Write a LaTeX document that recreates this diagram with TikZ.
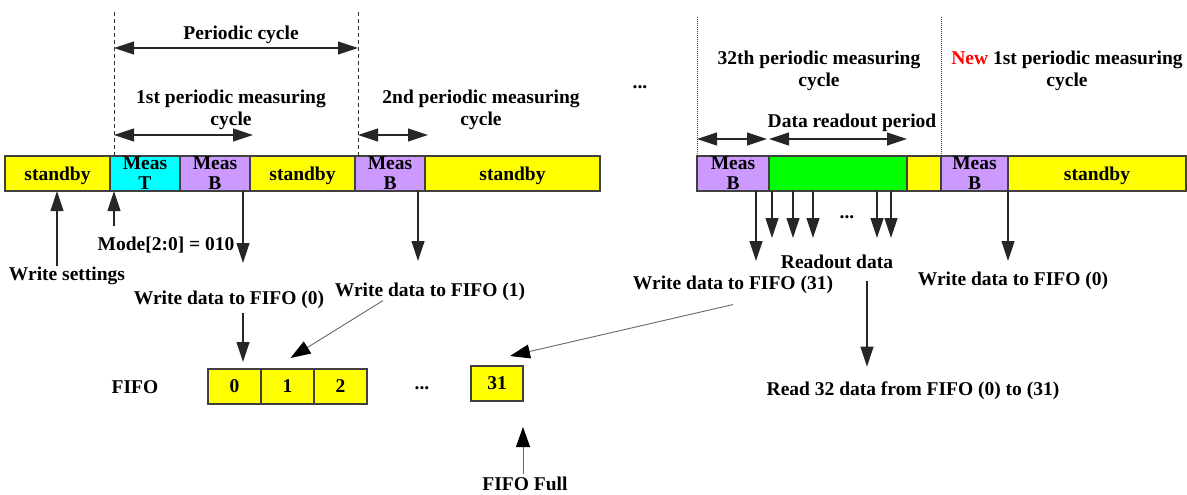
\documentclass[tikz,border=0pt]{standalone}
\usepackage{fontspec}
\setmainfont{Liberation Serif}
\usetikzlibrary{arrows.meta, positioning}
\definecolor{sbyellow}{RGB}{255,255,0}
\definecolor{meascyan}{RGB}{0,255,255}
\definecolor{measlilac}{RGB}{204,153,255}
\definecolor{readgreen}{RGB}{0,255,0}

\begin{document}
\begin{tikzpicture}[x=1pt, y=-1pt,
  lbl/.style={inner sep=0pt, align=center, yshift=-2.5pt, font=\fontsize{19.5}{22}\selectfont\bfseries},
  seg/.style={draw=black!75, line width=1.2pt, minimum height=35pt, inner sep=0pt, outer sep=0pt, align=center, text depth=0pt, font=\fontsize{19.5}{20}\selectfont\bfseries},
  cell/.style={seg, fill=sbyellow, minimum width=53pt},
  arr/.style={-{Triangle[length=20pt, width=13pt]}, line width=1.2pt, black!85},
  dimarr/.style={{Triangle[length=20pt, width=13pt]}-{Triangle[length=20pt, width=13pt]}, line width=1.2pt, black!85},
  thinarr/.style={-{Triangle[length=20pt, width=14pt, black]}, line width=0.9pt, black!60},
  guide/.style={black!80, line width=0.8pt, dash pattern=on 4pt off 3pt},
  dotguide/.style={black!80, line width=0.8pt, dash pattern=on 1pt off 1pt},
]
  \useasboundingbox (0,0) rectangle (1187,495);

  % time line, first part
  \node[seg, fill=sbyellow, minimum width=105pt, anchor=north west] (sb1) at (5,156) {standby};
  \node[seg, fill=meascyan, minimum width=70pt, right=0pt of sb1] (mt) {Meas\\T};
  \node[seg, fill=measlilac, minimum width=70pt, right=0pt of mt] (mb1) {Meas\\B};
  \node[seg, fill=sbyellow, minimum width=105pt, right=0pt of mb1] (sb2) {standby};
  \node[seg, fill=measlilac, minimum width=70pt, right=0pt of sb2] (mb2) {Meas\\B};
  \node[seg, fill=sbyellow, minimum width=175pt, right=0pt of mb2] (sb3) {standby};

  % time line, last part
  \node[seg, fill=measlilac, minimum width=72pt, anchor=north west] (mb3) at (697,156) {Meas\\B};
  \node[seg, fill=readgreen, minimum width=138pt, right=0pt of mb3] (rd) {};
  \node[seg, fill=sbyellow, minimum width=34pt, right=0pt of rd] (yl) {};
  \node[seg, fill=measlilac, minimum width=67pt, right=0pt of yl] (mb4) {Meas\\B};
  \node[seg, fill=sbyellow, minimum width=178pt, right=0pt of mb4] (sb4) {standby};

  % cycle borders
  \coordinate (v1) at (114,12);
  \coordinate (v2) at (358,12);
  \coordinate (v3) at (697,17);
  \coordinate (v4) at (941,17);
  \draw[guide] (v1) -- (v1 |- sb1.north);
  \draw[guide] (v2) -- (v2 |- sb1.north);
  \draw[dotguide] (v3) -- (v3 |- mb3.north);
  \draw[dotguide] (v4) -- (v4 |- mb3.north);

  % cycle labels
  \node[lbl] (pc) at (241,32) {Periodic cycle};
  \node[lbl] (c1st) at (231,107) {1st periodic measuring\\cycle};
  \node[lbl] (c2nd) at (481,107) {2nd periodic measuring\\cycle};
  \node[lbl] (dots1) at (640,85) {...};
  \node[lbl] (c32) at (819,68) {32th periodic measuring\\cycle};
  \node[lbl] (cnew) at (1067,68) {\textcolor{red}{New} 1st periodic measuring\\cycle};
  \node[lbl] (drp) at (852,120) {Data readout period};

  \draw[dimarr] (v1 |- 0,48) -- (v2 |- 0,48);
  \draw[dimarr] (v1 |- 0,135) -- (253,135);
  \draw[dimarr] (v2 |- 0,135) -- (428,135);
  \draw[dimarr] ([yshift=17pt]mb3.north west) -- ([xshift=-2pt,yshift=17pt]mb3.north east);
  \draw[dimarr] ([yshift=17pt]rd.north west) -- ([yshift=17pt]rd.north east);

  % events below the time line
  \node[lbl] (wset) at (67,273) {Write settings};
  \draw[arr] ([xshift=-10pt]wset.north) -- ([xshift=-10pt]wset.north |- sb1.south);
  \node[lbl] (mode) at (166,243) {Mode[2:0] = 010};
  \draw[arr] (v1 |- 0,226) -- (v1 |- mt.south);
  \draw[arr] ([xshift=-7pt]mb1.south east) -- ++(0,72);
  \node[lbl] (wd0) at (229,297) {Write data to FIFO (0)};
  \draw[arr] ([xshift=-7pt]mb2.south east) -- ++(0,70);
  \node[lbl] (wd1) at (430,289) {Write data to FIFO (1)};

  \draw[arr] ([xshift=-13pt]mb3.south east) -- ++(0,70);
  \foreach \dx in {3,24,44,108,122}
    \draw[arr] ([xshift=\dx pt]rd.south west) -- ++(0,47);
  \node[lbl] (dots3) at (847,215) {...};
  \node[lbl] (rdtxt) at (837,259) {Readout data};
  \node[lbl] (wd31) at (733,282) {Write data to FIFO (31)};
  \draw[arr] (mb4.south east) -- ++(0,70);
  \node[lbl] (wd0b) at (1013,278) {Write data to FIFO (0)};

  % FIFO
  \node[lbl] (fifo) at (135,385) {FIFO};
  \node[cell] (c0) at (234.5,386.5) {0};
  \node[cell, right=0pt of c0] (c1) {1};
  \node[cell, right=0pt of c1] (c2) {2};
  \node[lbl] (dots2) at (422,386) {...};
  \node[cell, minimum width=52pt] (c31) at (497,383.5) {31};
  \node[lbl] (ffull) at (525,481) {FIFO Full};
  \node[lbl] (read32) at (913,388) {Read 32 data from FIFO (0) to (31)};

  \draw[arr] ([xshift=14pt,yshift=-4pt]wd0.south) -- ([xshift=8.5pt,yshift=7pt]c0.north);
  \draw[thinarr] ([xshift=-47pt]wd1.south) -- ([xshift=3pt,yshift=11pt]c1.north);
  \draw[thinarr] ([yshift=-11pt]wd31.south) -- ([xshift=13pt,yshift=10pt]c31.north);
  \draw[thinarr] ([xshift=-2pt,yshift=2pt]ffull.north) -- ([yshift=-26pt]c31.south east);
  \draw[arr] ([xshift=30pt,yshift=-12pt]rdtxt.south) -- ++(0,86);
\end{tikzpicture}
\end{document}
